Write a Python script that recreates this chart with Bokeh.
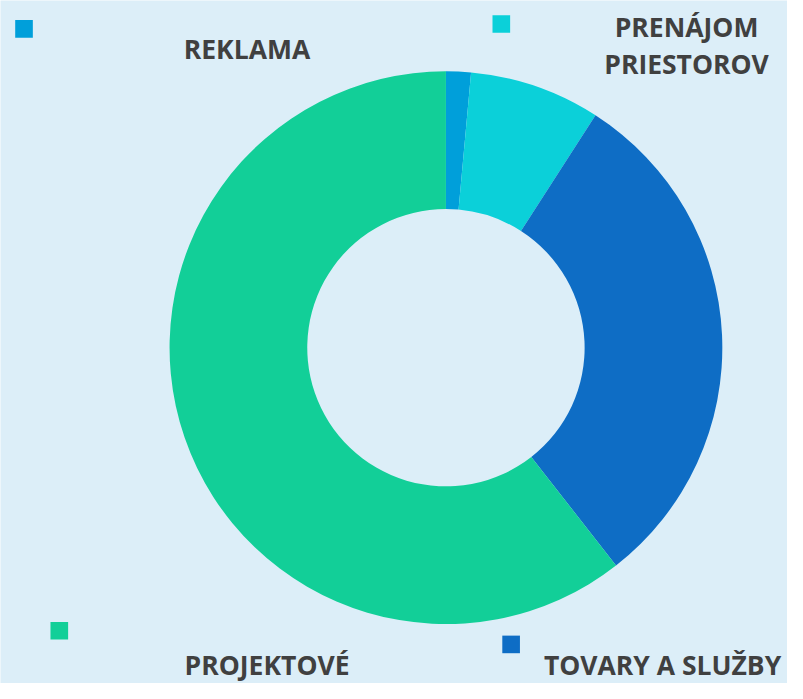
import math
from bokeh.plotting import figure
from bokeh.models import ColumnDataSource
from bokeh.core.properties import value
from bokeh.embed import file_html
from bokeh.resources import INLINE

# ---- data ----
categories = ["REKLAMA", "PRENÁJOM\nPRIESTOROV", "TOVARY A SLUŽBY", "PROJEKTOVÉ"]
shares = [1.45, 7.65, 30.35, 60.55]
colors = ["#009FDA", "#0BD0D9", "#0E6DC5", "#12CF98"]

# ---- layout (reference pixel space 803 x 699, y measured from top) ----
RW, RH = 803, 699
W, H = 787, 683
def fy(Y): return RH - Y

cx, cy = 454.5, fy(355.3)
r_out, r_in = 282, 141.5

legend_sq_xy = [(24, 29), (511, 24), (521, 659), (60, 645)]     # square centres
label_xy = [(251.5, 58.5), (700, 36.5), (675.5, 689.5), (272, 689.5)]  # baselines
line_gap = 37.5
text_shift = 9   # compensation for rendered baseline offset
BG = "#DCEEF8"
TXT = "#404040"

# ---- wedges ----
total = sum(shares)
starts, ends = [], []
acc = 0.0
for s in shares:
    a0 = math.pi / 2 - 2 * math.pi * acc / total
    acc += s
    a1 = math.pi / 2 - 2 * math.pi * acc / total
    starts.append(a0)
    ends.append(a1)

src = ColumnDataSource(dict(start=starts, end=ends, color=colors,
                            x=[cx] * len(shares), y=[cy] * len(shares)))

p = figure(width=W, height=H, x_range=(0, RW), y_range=(0, RH),
           min_border=0, x_axis_location=None, y_axis_location=None,
           toolbar_location=None, output_backend="svg",
           background_fill_color=BG, border_fill_color=BG,
           outline_line_color=None)
p.grid.visible = False

p.annular_wedge(x="x", y="y", inner_radius=r_in, outer_radius=r_out,
                start_angle="start", end_angle="end", direction="clock",
                fill_color="color", line_color=None, source=src)

# legend squares
p.rect(x=[a for a, b in legend_sq_xy], y=[fy(b) for a, b in legend_sq_xy],
       width=18, height=18, fill_color=colors, line_color=None)

# labels
tx, ty, tt = [], [], []
for cat, (X, Y) in zip(categories, label_xy):
    lines = cat.split("\n")
    for i, ln in enumerate(lines):
        tx.append(X)
        ty.append(fy(Y + i * line_gap - text_shift))
        tt.append(ln)
p.text(x=tx, y=ty, text=tt, text_align="center", text_baseline="alphabetic",
       text_font=value("Open Sans"), text_font_style="bold",
       text_font_size="26.5px", text_color=TXT)

open("out.html", "w").write(file_html(p, INLINE))
